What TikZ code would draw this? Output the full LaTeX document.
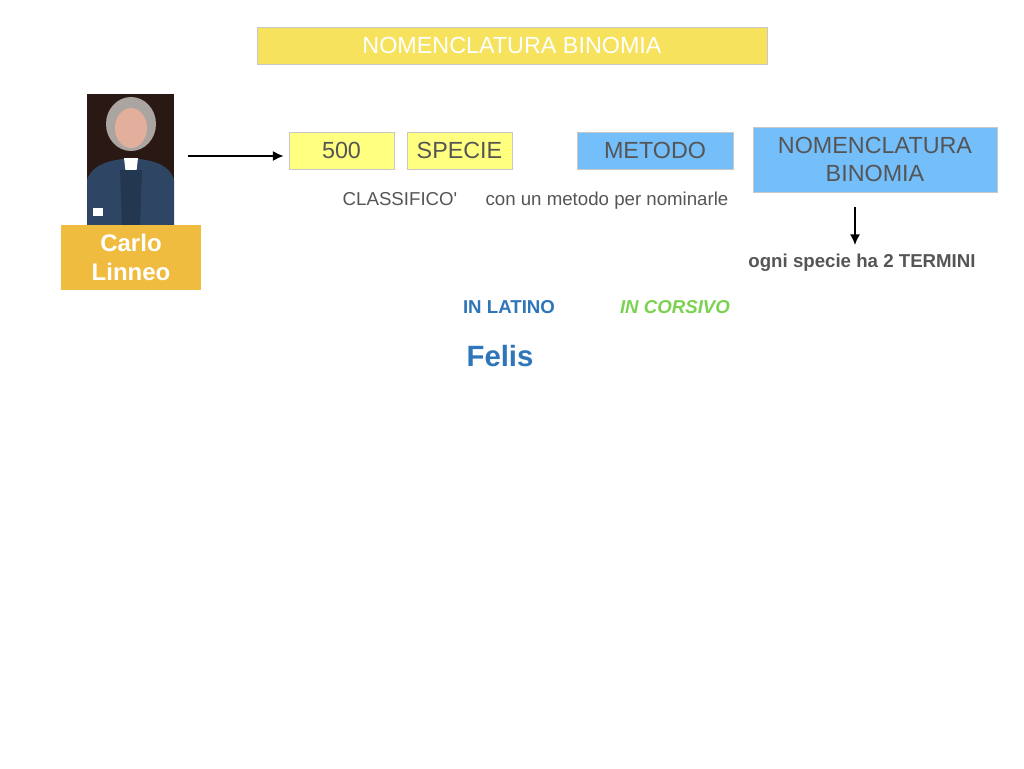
\documentclass[tikz,border=0pt]{standalone}
\usepackage{fontspec}
\setmainfont{Liberation Sans}
\usetikzlibrary{arrows.meta}
\definecolor{titleyellow}{RGB}{246,226,92}
\definecolor{boxyellow}{RGB}{255,255,128}
\definecolor{boxblue}{RGB}{116,190,250}
\definecolor{linneo}{RGB}{240,188,64}
\definecolor{txtgray}{RGB}{85,85,85}
\definecolor{txtblue}{RGB}{46,117,186}
\definecolor{txtgreen}{RGB}{122,210,80}
\definecolor{bordergray}{RGB}{200,200,200}
\tikzset{
  box/.style={draw=bordergray, line width=0.6pt, inner sep=0pt, align=center, text=txtgray, font=\fontsize{17.5}{21}\selectfont},
  note/.style={anchor=base, inner sep=0.75pt, text=txtgray, font=\fontsize{14}{17}\selectfont},
  arrowline/.style={line width=1.1pt, -{Latex[length=8pt,width=7.5pt]}}
}
\begin{document}
\begin{tikzpicture}[x=0.75pt,y=0.75pt,yscale=-1,xscale=1]
\useasboundingbox (0,0) rectangle (1024,768);

%Shape: Rectangle title
\node (title) [box, fill=titleyellow, text=white, minimum width=382.5pt, minimum height=27.75pt] at (512,45.5) {NOMENCLATURA BINOMIA};

%Portrait
\node (portrait) [inner sep=0pt, minimum width=65.25pt, minimum height=98.25pt, fill={rgb,255:red,42;green,24;blue,20}] at (130.5,159.5) {};
\begin{scope}
\clip (87,94) rectangle (174,225);
\fill [fill={rgb,255:red,170;green,165;blue,160}] (131,124) ellipse (25 and 27);
\fill [fill={rgb,255:red,46;green,70;blue,100}] (87,225) -- (87,180) .. controls (92,165) and (108,160) .. (131,158) .. controls (154,160) and (170,165) .. (174,180) -- (174,225) -- cycle;
\fill [fill={rgb,255:red,225;green,175;blue,155}] (131,128) ellipse (16 and 20);
\fill [white] (124,158) -- (138,158) -- (136,175) -- (131,190) -- (126,175) -- cycle;
\fill [fill={rgb,255:red,35;green,55;blue,80}] (120,170) -- (142,170) -- (140,225) -- (122,225) -- cycle;
\fill [white] (93,208) rectangle (103,216);
\end{scope}

%Shape: Rectangle Carlo Linneo
\node (carlo) [inner sep=0pt, fill=linneo, minimum width=105pt, minimum height=48.75pt, align=center, text=white, font=\bfseries\fontsize{18}{21.75}\selectfont] at (131,257.5) {Carlo\\Linneo};

%Shape: Rectangles
\node (num) [box, fill=boxyellow, minimum width=78.75pt, minimum height=27.75pt] at (341.5,150.5) {500};
\node (specie) [box, fill=boxyellow, minimum width=78.75pt, minimum height=27.75pt] at (459.5,150.5) {SPECIE};
\node (metodo) [box, fill=boxblue, minimum width=117pt, minimum height=27.75pt] at (655,150.5) {METODO};
\node (nombin) [box, fill=boxblue, minimum width=183pt, minimum height=48.75pt] at (875,159.5) {NOMENCLATURA\\BINOMIA};

% Text Node
\node (classifico) [note] at (400,205) {CLASSIFICO\textquotesingle};
% Text Node
\node (conun) [note] at (607,205) {con un metodo per nominarle};
% Text Node
\node (ogni) [note, font=\bfseries\fontsize{14}{17}\selectfont] at (862,267) {ogni specie ha 2 TERMINI};
% Text Node
\node (latino) [note, text=txtblue, font=\bfseries\fontsize{14}{17}\selectfont] at (509,313) {IN LATINO};
% Text Node
\node (corsivo) [note, text=txtgreen, font=\bfseries\itshape\fontsize{14}{17}\selectfont] at (675,313) {IN CORSIVO};
% Text Node
\node (felis) [note, text=txtblue, font=\bfseries\fontsize{22}{26}\selectfont] at (500,366) {Felis};

%Arrows
\coordinate (a1) at (855,207);
\draw [arrowline, shorten <=10.5pt, shorten >=3.75pt] (portrait.east |- 0,156) -- (num.west |- 0,156);
\draw [arrowline] (a1) -- (855,245);
\end{tikzpicture}
\end{document}
